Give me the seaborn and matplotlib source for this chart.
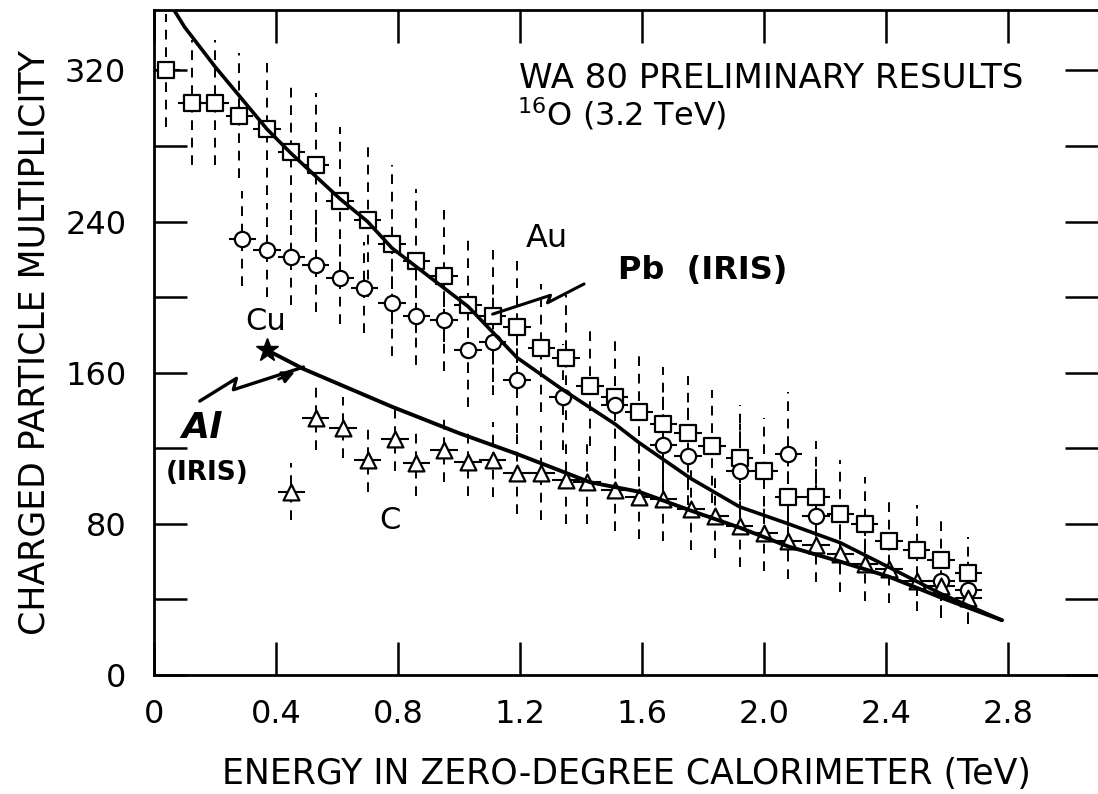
import numpy as np
import pandas as pd
import matplotlib
matplotlib.use("Agg")
import matplotlib.pyplot as plt
import seaborn as sns
from matplotlib.ticker import MultipleLocator, FuncFormatter

# ---------------- data ----------------
au_x = [0.04, 0.125, 0.20, 0.28, 0.37, 0.45, 0.53, 0.61, 0.70, 0.78, 0.86, 0.95, 1.03, 1.11,
        1.19, 1.27, 1.35, 1.43, 1.51, 1.59, 1.67, 1.75, 1.83, 1.92, 2.00, 2.08, 2.17, 2.25,
        2.33, 2.41, 2.50, 2.58, 2.67]
au_y = [320, 303, 303, 296, 289, 277, 270, 251, 241, 228, 219, 211, 196, 190,
        184, 173, 168, 153, 147, 139, 133, 128, 121, 115, 108, 94, 94, 85,
        80, 71, 66, 61, 54]
au_err = [30, 33, 33, 33, 35, 36, 38, 39, 41, 42, 38, 35, 36, 35,
          35, 34, 33, 32, 31, 31, 30, 30, 30, 28, 28, 30, 30, 29,
          25, 22, 24, 22, 19]

cu_x = [0.29, 0.37, 0.45, 0.53, 0.61, 0.69, 0.78, 0.86, 0.95, 1.03, 1.11, 1.19, 1.34,
        1.51, 1.67, 1.75, 1.92, 2.08, 2.17, 2.58, 2.67]
cu_y = [231, 225, 221, 217, 210, 205, 197, 190, 188, 172, 176, 156, 147,
        143, 122, 116, 108, 117, 84, 50, 45]
cu_err = [25, 25, 25, 25, 24, 24, 28, 26, 27, 30, 28, 28, 28,
          27, 26, 26, 25, 33, 25, 20, 18]

c_x = [0.45, 0.53, 0.62, 0.70, 0.79, 0.86, 0.95, 1.03, 1.11, 1.19, 1.27, 1.35, 1.42, 1.51,
       1.59, 1.67, 1.76, 1.84, 1.92, 2.00, 2.08, 2.17, 2.25, 2.33, 2.41, 2.50, 2.58, 2.67]
c_y = [97, 136, 131, 114, 125, 112, 119, 113, 114, 107, 107, 103, 102, 98,
       94, 93, 88, 84, 79, 75, 71, 69, 64, 59, 56, 50, 47, 41]
c_err = [15, 17, 16, 17, 17, 17, 17, 18, 20, 22, 25, 23, 22, 22,
         22, 22, 22, 22, 22, 20, 20, 20, 20, 20, 18, 16, 15, 13]

pb_iris_x = [0.05, 0.10, 0.20, 0.37, 0.45, 0.53, 0.61, 0.70, 0.78, 1.03, 1.19, 1.34, 1.51,
             1.59, 1.76, 1.92, 2.08, 2.25, 2.41, 2.58, 2.78]
pb_iris_y = [356, 343, 322, 289, 276, 264, 252, 240, 226, 195, 168, 151, 133,
             123, 104, 89, 80, 70, 57, 43, 29]

al_iris_x = [0.37, 0.49, 0.78, 1.00, 1.19, 1.43, 1.59, 1.76, 1.92, 2.08, 2.25, 2.41, 2.58, 2.78]
al_iris_y = [172, 162, 142, 128, 117, 102, 97, 87, 78, 68, 60, 52, 41, 29]

# zig-zag pointer lines (annotation paths)
pb_ptr_x = [1.11, 1.30, 1.29, 1.41]
pb_ptr_y = [191, 201, 197, 207]
al_ptr_x = [0.15, 0.27, 0.26, 0.49]
al_ptr_y = [145, 157, 151, 163]

x_ticks = [0, 0.4, 0.8, 1.2, 1.6, 2.0, 2.4, 2.8]
y_label_ticks = [0, 80, 160, 240, 320]

# ---------------- style ----------------
sns.set_style("ticks")
plt.rcParams['font.family'] = ['DejaVu Sans']
INK = "black"

fig = plt.figure(figsize=(10.98, 7.94), dpi=100)
ax = fig.add_axes([0.1403, 0.1499, 0.8597, 0.8375])


def series(xs, ys, errs, marker, ms):
    eb = ax.errorbar(xs, ys, yerr=errs, fmt='none', ecolor=INK, elinewidth=1.4, capsize=0, zorder=2)
    for lc in eb[2]:
        lc.set_linestyle((0, (5, 4)))
    ax.errorbar(xs, ys, xerr=0.045, fmt='none', ecolor=INK, elinewidth=1.5, capsize=0, zorder=3)
    df = pd.DataFrame({"x": xs, "y": ys})
    sns.scatterplot(data=df, x="x", y="y", marker=marker, s=ms, facecolor="white",
                    edgecolor=INK, linewidth=1.6, ax=ax, zorder=4)


series(au_x, au_y, au_err, "s", 120)
series(cu_x, cu_y, cu_err, "o", 120)
series(c_x, c_y, c_err, "^", 130)

pb_df = pd.DataFrame({"x": pb_iris_x, "y": pb_iris_y})
al_df = pd.DataFrame({"x": al_iris_x, "y": al_iris_y})
sns.lineplot(data=pb_df, x="x", y="y", color=INK, linewidth=2.6, ax=ax, zorder=5, sort=False)
sns.lineplot(data=al_df, x="x", y="y", color=INK, linewidth=2.8, ax=ax, zorder=5, sort=False)
ax.plot(al_iris_x[0], al_iris_y[0], marker="*", color=INK, markersize=17, zorder=6)

# pointers
ax.plot(pb_ptr_x, pb_ptr_y, color=INK, linewidth=2.2, zorder=6)
ax.plot(al_ptr_x, al_ptr_y, color=INK, linewidth=2.4, zorder=6)
ax.annotate("", xy=(0.47, 161), xytext=(0.40, 156),
            arrowprops=dict(arrowstyle="-|>", color=INK, lw=2, mutation_scale=18), zorder=6)

# ---------------- axes ----------------
ax.set_xlim(0, 3.095)
ax.set_ylim(0, 352)
ax.yaxis.set_major_locator(MultipleLocator(40))
ax.set_xticks(x_ticks)
ax.xaxis.set_major_formatter(FuncFormatter(lambda v, p: "0" if abs(v) < 1e-9 else f"{v:.1f}"))
ax.yaxis.set_major_formatter(FuncFormatter(
    lambda v, p: f"{int(round(v))}" if int(round(v)) in y_label_ticks else ""))

ax.tick_params(axis="both", direction="in", length=24, width=1.8, top=True, right=True,
               labelsize=23, colors=INK)
ax.tick_params(axis="x", pad=17)
ax.tick_params(axis="y", pad=20)
for s in ax.spines.values():
    s.set_linewidth(2.0)
    s.set_color(INK)
ax.spines["right"].set_visible(False)

ax.set_xlabel("ENERGY IN ZERO-DEGREE CALORIMETER (TeV)", fontsize=25, labelpad=20, color=INK)
ax.set_ylabel("CHARGED PARTICLE MULTIPLICITY", fontsize=25, labelpad=10, color=INK)

# ---------------- text ----------------
ax.text(1.197, 316, "WA 80 PRELIMINARY RESULTS", fontsize=24.5, ha="left", va="center", color=INK)
ax.text(1.19, 297, r"$^{16}$O (3.2 TeV)", fontsize=23, ha="left", va="center", color=INK)
ax.text(1.22, 231, "Au", fontsize=23, ha="left", va="center", color=INK)
ax.text(1.52, 214, "Pb  (IRIS)", fontsize=23, ha="left", va="center", color=INK, fontweight="bold")
ax.text(0.30, 187, "Cu", fontsize=22, ha="left", va="center", color=INK)
ax.text(0.09, 131, "Al", fontsize=26, ha="left", va="center", color=INK, fontweight="bold",
        fontstyle="italic")
ax.text(0.04, 107, "(IRIS)", fontsize=19, ha="left", va="center", color=INK, fontweight="bold")
ax.text(0.74, 82, "C", fontsize=22, ha="left", va="center", color=INK)

fig.savefig("out.png", dpi=100, facecolor="white")
